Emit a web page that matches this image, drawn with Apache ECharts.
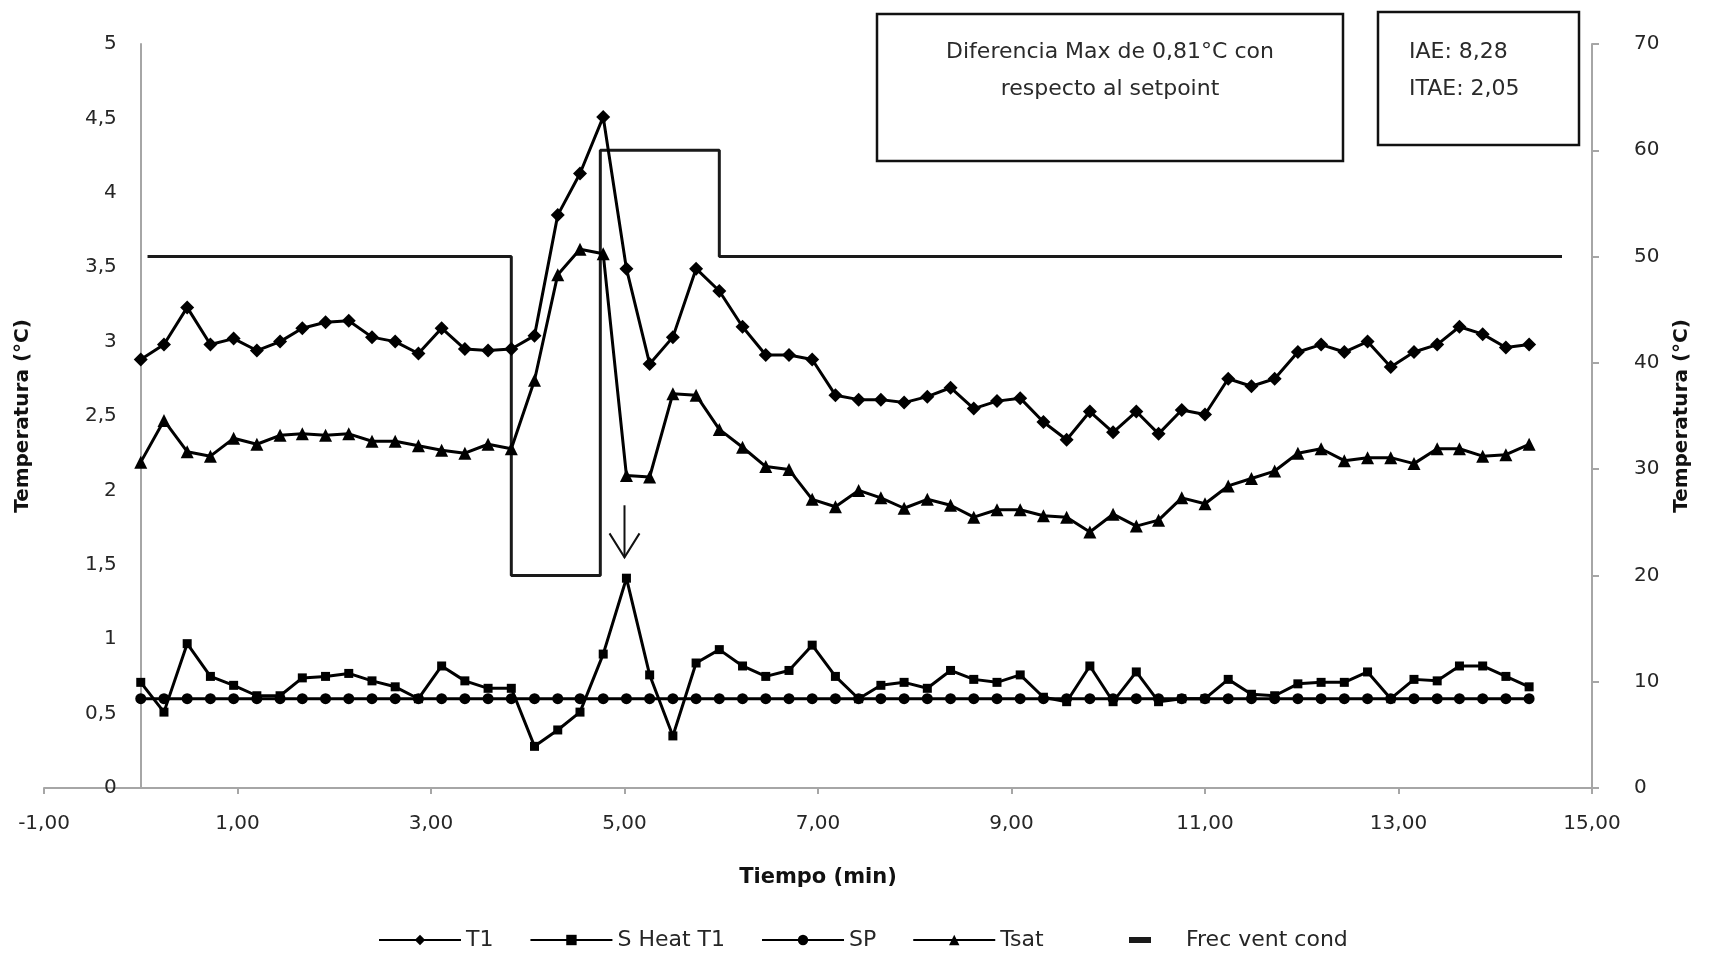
<!DOCTYPE html>
<html>
<head>
<meta charset="utf-8">
<script src="https://cdn.jsdelivr.net/npm/echarts@6/dist/echarts.min.js"></script>
<style>
  html, body { margin: 0; padding: 0; background: #ffffff; }
  #chart { width: 1719px; height: 960px; }
</style>
</head>
<body>
<div id="chart"></div>
<script>
// Tiempo de muestreo (min)
const tiempo = [0.00, 0.24, 0.48, 0.72, 0.96, 1.20, 1.44, 1.67, 1.91, 2.15,
  2.39, 2.63, 2.87, 3.11, 3.35, 3.59, 3.83, 4.07, 4.31, 4.54,
  4.78, 5.02, 5.26, 5.50, 5.74, 5.98, 6.22, 6.46, 6.70, 6.94,
  7.18, 7.42, 7.65, 7.89, 8.13, 8.37, 8.61, 8.85, 9.09, 9.33,
  9.57, 9.81, 10.05, 10.29, 10.52, 10.76, 11.00, 11.24, 11.48, 11.72,
  11.96, 12.20, 12.44, 12.68, 12.92, 13.16, 13.40, 13.63, 13.87, 14.11,
  14.35];

// Temperatura T1 (°C)
const t1 = [2.88, 2.98, 3.23, 2.98, 3.02, 2.94, 3.00, 3.09, 3.13, 3.14,
  3.03, 3.00, 2.92, 3.09, 2.95, 2.94, 2.95, 3.04, 3.85, 4.13,
  4.51, 3.49, 2.85, 3.03, 3.49, 3.34, 3.10, 2.91, 2.91, 2.88,
  2.64, 2.61, 2.61, 2.59, 2.63, 2.69, 2.55, 2.60, 2.62, 2.46,
  2.34, 2.53, 2.39, 2.53, 2.38, 2.54, 2.51, 2.75, 2.70, 2.75,
  2.93, 2.98, 2.93, 3.00, 2.83, 2.93, 2.98, 3.10, 3.05, 2.96,
  2.98];

// Sobrecalentamiento en T1 (°C)
const sHeatT1 = [0.71, 0.51, 0.97, 0.75, 0.69, 0.62, 0.62, 0.74, 0.75, 0.77,
  0.72, 0.68, 0.60, 0.82, 0.72, 0.67, 0.67, 0.28, 0.39, 0.51,
  0.90, 1.41, 0.76, 0.35, 0.84, 0.93, 0.82, 0.75, 0.79, 0.96,
  0.75, 0.60, 0.69, 0.71, 0.67, 0.79, 0.73, 0.71, 0.76, 0.61,
  0.58, 0.82, 0.58, 0.78, 0.58, 0.60, 0.60, 0.73, 0.63, 0.62,
  0.70, 0.71, 0.71, 0.78, 0.60, 0.73, 0.72, 0.82, 0.82, 0.75,
  0.68];

// Setpoint de sobrecalentamiento (°C)
const sp = [0.6, 0.6, 0.6, 0.6, 0.6, 0.6, 0.6, 0.6, 0.6, 0.6,
  0.6, 0.6, 0.6, 0.6, 0.6, 0.6, 0.6, 0.6, 0.6, 0.6,
  0.6, 0.6, 0.6, 0.6, 0.6, 0.6, 0.6, 0.6, 0.6, 0.6,
  0.6, 0.6, 0.6, 0.6, 0.6, 0.6, 0.6, 0.6, 0.6, 0.6,
  0.6, 0.6, 0.6, 0.6, 0.6, 0.6, 0.6, 0.6, 0.6, 0.6,
  0.6, 0.6, 0.6, 0.6, 0.6, 0.6, 0.6, 0.6, 0.6, 0.6,
  0.6];

// Temperatura de saturación (°C)
const tsat = [2.19, 2.47, 2.26, 2.23, 2.35, 2.31, 2.37, 2.38, 2.37, 2.38,
  2.33, 2.33, 2.30, 2.27, 2.25, 2.31, 2.28, 2.74, 3.45, 3.62,
  3.59, 2.10, 2.09, 2.65, 2.64, 2.41, 2.29, 2.16, 2.14, 1.94,
  1.89, 2.00, 1.95, 1.88, 1.94, 1.90, 1.82, 1.87, 1.87, 1.83,
  1.82, 1.72, 1.84, 1.76, 1.80, 1.95, 1.91, 2.03, 2.08, 2.13,
  2.25, 2.28, 2.20, 2.22, 2.22, 2.18, 2.28, 2.28, 2.23, 2.24,
  2.31];

// Frecuencia del ventilador del condensador (eje derecho)
const frecTiempo = [0.07, 3.83, 3.83, 4.75, 4.75, 5.98, 5.98, 14.69];
const frecVent = [50, 50, 20, 20, 60, 60, 50, 50];

// Marcas del eje de tiempo
const xTicks = [-1, 1, 3, 5, 7, 9, 11, 13, 15];

// Flecha sobre el máximo de sobrecalentamiento
const flechaTiempo = 5.0;
const flechaDesde = 1.9;
const flechaHasta = 1.55;

const FONT = '"DejaVu Sans", Lato, sans-serif';
const INK = '#000000';
const AXIS_GREY = '#a6a6a6';
const LABEL = '#262626';

// Área de trazado
const GRID = { left: 44, right: 127, top: 44, bottom: 172 };
const X_MIN = -1, X_MAX = 15;
// El eje vertical izquierdo cruza el eje de tiempo en t = 0
const anchoTrazado = 1719 - GRID.left - GRID.right;
const desplazamientoEjeY = -(0 - X_MIN) / (X_MAX - X_MIN) * anchoTrazado;

function pares(xs, ys) {
  return xs.map((x, i) => [x, ys[i]]);
}
function coma(v, d) {
  return (d === undefined ? String(v) : v.toFixed(d)).replace('.', ',');
}

function serieLinea(nombre, datos, simbolo, tam) {
  return {
    name: nombre,
    type: 'line',
    xAxisIndex: 0,
    yAxisIndex: 0,
    data: pares(tiempo, datos),
    symbol: simbolo,
    symbolSize: tam,
    showAllSymbol: true,
    lineStyle: { color: INK, width: 3 },
    itemStyle: { color: INK, borderWidth: 0 },
    emphasis: { disabled: true },
    z: 3
  };
}

const chart = echarts.init(document.getElementById('chart'), null, { renderer: 'canvas' });

chart.setOption({
  animation: false,
  backgroundColor: '#ffffff',
  textStyle: { fontFamily: FONT },
  grid: Object.assign({ containLabel: false, outerBoundsMode: 'none' }, GRID),
  xAxis: {
    type: 'value',
    min: X_MIN,
    max: X_MAX,
    name: 'Tiempo (min)',
    nameLocation: 'middle',
    nameGap: 79,
    nameTextStyle: { fontFamily: FONT, fontSize: 21, fontWeight: 'bold', color: '#111' },
    axisLine: { show: true, onZero: false, lineStyle: { color: AXIS_GREY, width: 2 } },
    axisTick: { show: true, customValues: xTicks, length: 6, inside: false, lineStyle: { color: AXIS_GREY, width: 2 } },
    axisLabel: {
      customValues: xTicks,
      formatter: v => coma(v, 2),
      margin: 26,
      fontFamily: FONT,
      fontSize: 20,
      color: LABEL
    },
    splitLine: { show: false }
  },
  yAxis: [
    {
      type: 'value',
      min: 0,
      max: 5,
      interval: 0.5,
      position: 'left',
      offset: desplazamientoEjeY,
      name: 'Temperatura (°C)',
      nameLocation: 'middle',
      nameRotate: 90,
      nameGap: 108,
      nameTextStyle: { fontFamily: FONT, fontSize: 20, fontWeight: 'bold', color: '#111' },
      axisLine: { show: true, onZero: false, lineStyle: { color: AXIS_GREY, width: 2 } },
      axisTick: { show: false },
      axisLabel: { formatter: v => coma(v), margin: 24, fontFamily: FONT, fontSize: 20, color: LABEL },
      splitLine: { show: false }
    },
    {
      type: 'value',
      min: 0,
      max: 70,
      interval: 10,
      position: 'right',
      name: 'Temperatura (°C)',
      nameLocation: 'middle',
      nameRotate: 90,
      nameGap: 80,
      nameTextStyle: { fontFamily: FONT, fontSize: 20, fontWeight: 'bold', color: '#111' },
      axisLine: { show: true, onZero: false, lineStyle: { color: AXIS_GREY, width: 2 } },
      axisTick: { show: true, length: 7, inside: false, lineStyle: { color: AXIS_GREY, width: 2 } },
      axisLabel: { margin: 42, fontFamily: FONT, fontSize: 20, color: LABEL },
      splitLine: { show: false }
    }
  ],
  legend: [
    {
      data: ['T1', 'S Heat T1', 'SP', 'Tsat'],
      left: 373,
      top: 924,
      itemWidth: 82,
      itemHeight: 13,
      itemGap: 36,
      textStyle: { fontFamily: FONT, fontSize: 22, color: LABEL },
      selectedMode: false
    },
    {
      data: [{ name: 'Frec vent cond', icon: 'rect' }],
      left: 1124,
      top: 924,
      itemWidth: 22,
      itemHeight: 6,
      itemGap: 20,
      textStyle: { fontFamily: FONT, fontSize: 22, color: LABEL, padding: [0, 0, 0, 30] },
      selectedMode: false
    }
  ],
  series: [
    serieLinea('T1', t1, 'diamond', 14),
    serieLinea('S Heat T1', sHeatT1, 'rect', 9),
    serieLinea('SP', sp, 'circle', 11),
    serieLinea('Tsat', tsat, 'triangle', 13),
    {
      name: 'Frec vent cond',
      type: 'line',
      xAxisIndex: 0,
      yAxisIndex: 1,
      data: pares(frecTiempo, frecVent),
      symbol: 'none',
      lineStyle: { color: '#1a1a1a', width: 3 },
      itemStyle: { color: '#1a1a1a' },
      emphasis: { disabled: true },
      z: 2
    }
  ]
});

// Cuadros de texto y flecha indicadora
const pSup = chart.convertToPixel({ xAxisIndex: 0, yAxisIndex: 0 }, [flechaTiempo, flechaDesde]);
const pInf = chart.convertToPixel({ xAxisIndex: 0, yAxisIndex: 0 }, [flechaTiempo, flechaHasta]);
const alaX = 15, alaY = 24;

chart.setOption({
  graphic: [
    {
      type: 'rect',
      shape: { x: 877, y: 14, width: 466, height: 147 },
      style: { fill: '#ffffff', stroke: '#111', lineWidth: 2.5 },
      z: 10
    },
    {
      type: 'text',
      x: 1110,
      y: 34,
      style: {
        text: 'Diferencia Max de 0,81°C con\nrespecto al setpoint',
        fontFamily: FONT,
        fontSize: 22,
        lineHeight: 37,
        fill: '#2a2a2a',
        align: 'center',
        verticalAlign: 'top'
      },
      z: 11
    },
    {
      type: 'rect',
      shape: { x: 1378, y: 12, width: 201, height: 133 },
      style: { fill: '#ffffff', stroke: '#111', lineWidth: 2.5 },
      z: 10
    },
    {
      type: 'text',
      x: 1409,
      y: 34,
      style: {
        text: 'IAE: 8,28\nITAE: 2,05',
        fontFamily: FONT,
        fontSize: 22,
        lineHeight: 37,
        fill: '#2a2a2a',
        align: 'left',
        verticalAlign: 'top'
      },
      z: 11
    },
    {
      type: 'polyline',
      shape: { points: [pSup, pInf] },
      style: { stroke: '#111', lineWidth: 2, fill: null },
      z: 10
    },
    {
      type: 'polyline',
      shape: { points: [[pInf[0] - alaX, pInf[1] - alaY], pInf, [pInf[0] + alaX, pInf[1] - alaY]] },
      style: { stroke: '#111', lineWidth: 2, fill: null },
      z: 10
    }
  ]
});
</script>
</body>
</html>
